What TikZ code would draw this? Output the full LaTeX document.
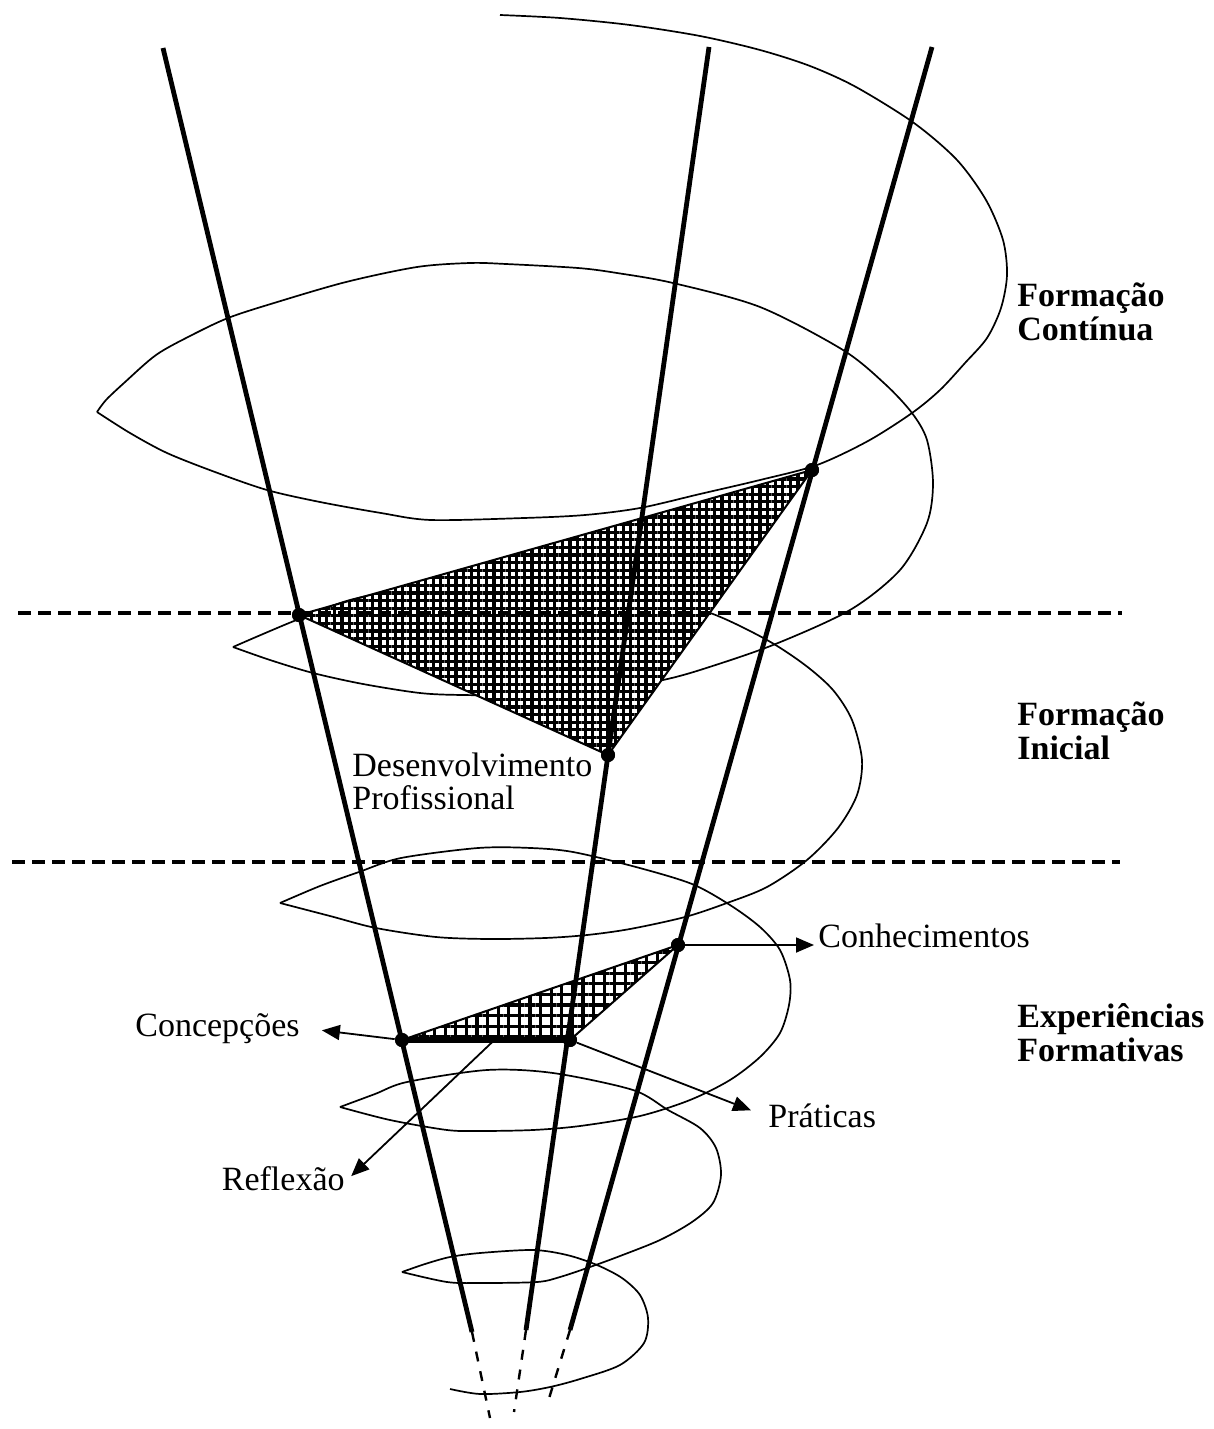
\documentclass[tikz,border=0pt]{standalone}
\usepackage{fontspec}
\setmainfont{Liberation Serif}
\usepackage{tikz}
\usetikzlibrary{arrows.meta,calc,patterns.meta}
\definecolor{dInk}{RGB}{0,0,0}
\tikzset{
  cone/.style={draw=dInk, line width=2.4pt},
  conedash/.style={draw=dInk, line width=1.2pt, dash pattern=on 5pt off 5pt},
  spir/.style={draw=dInk, line width=0.85pt},
  level/.style={draw=dInk, line width=2.2pt, dash pattern=on 6.5pt off 3.5pt},
  tri/.style={draw=dInk, line width=1pt, fill=white,
              postaction={pattern={Hatch[angle=0,distance=#1,line width=1.55pt]}}},
  base/.style={draw=dInk, line width=2.6pt},
  dot/.style={circle, fill=dInk, inner sep=0pt, minimum size=7pt},
  arr/.style={-{Triangle[length=9pt,width=7.5pt]}, draw=dInk, line width=0.9pt},
  lbl/.style={font=\fontsize{17}{16.5}\selectfont, inner sep=2pt, align=left},
  tag/.style={lbl, font=\fontsize{17}{17}\selectfont\bfseries},
}

\begin{document}
\begin{tikzpicture}[x=0.5pt,y=-0.5pt]
  \useasboundingbox (0,0) rectangle (1214,1429);
  \draw[spir] plot[smooth] coordinates {(500,15) (560,18) (630,25) (700,36) (760,50) (810,66) (856,87) (914,123) (957,160) (986,200) (1003,240) (1007,275) (1001,308) (987,338) (965,363) (940,390) (912,413) (868,441) (817,465) (760,480) (700,494) (640,508) (585,515) (524,518) (431,520) (381,513) (320,502) (267,490) (215,472) (167,453) (130,433) (97,412)};
  \draw[spir] plot[smooth] coordinates {(97,412) (106,400) (124,383) (156,355) (190,336) (228,318) (274,303) (346,282) (417,267) (470,263) (506,264) (578,268) (617,273) (673,283) (760,307) (843,350) (885,384) (912,413) (927,440) (933,483) (927,523) (900,570) (850,610) (773,645) (700,670) (663,680) (622,687) (540,695) (463,695) (420,693) (363,684) (313,673) (270,660) (233,647)};
  \draw[spir] plot[smooth] coordinates {(233,647) (263,634) (299,619) (350,600) (420,586) (500,579) (580,583) (650,596) (713,614) (767,640) (805,665) (833,690) (852,720) (862,760) (857,795) (838,828) (807,860) (767,887) (727,903) (685,917) (630,929) (587,935) (545,938) (490,939) (436,937) (376,928) (330,916) (280,903)};
  \draw[spir] plot[smooth] coordinates {(280,903) (320,886) (359,872) (401,858) (478,848) (531,848) (573,852) (636,867) (692,884) (730,905) (760,927) (780,950) (790,980) (789,1005) (780,1033) (760,1057) (730,1080) (690,1100) (640,1116) (580,1126) (533,1130) (480,1131) (447,1130) (390,1120) (340,1107)};
  \draw[spir] plot[smooth] coordinates {(340,1107) (375,1094) (407,1082) (487,1070) (553,1073) (633,1090) (668,1110) (700,1128) (716,1148) (721,1175) (713,1203) (692,1222) (660,1240) (620,1256) (590,1267) (560,1277) (537,1282) (480,1283) (447,1282) (402,1272)};
  \draw[spir] plot[smooth] coordinates {(402,1272) (425,1264) (450,1257) (480,1253) (533,1250) (567,1255) (597,1265) (622,1278) (640,1295) (648,1318) (644,1343) (620,1365) (580,1379) (550,1387) (520,1392) (480,1394) (450,1389)};
  \node[dot] (d1) at (299,615) {};
  \node[dot] (d2) at (812,470) {};
  \node[dot] (d3) at (608,755) {};
  \node[dot] (d4) at (402,1040) {};
  \node[dot] (d5) at (570,1040) {};
  \node[dot] (d6) at (678,945) {};
  \draw[tri=3.8pt] (d1.center) -- (d2.center) -- (d3.center) -- cycle;
  \draw[tri=5.3pt] (d4.center) -- (d6.center) -- (d5.center) -- cycle;
  \draw[base] (d4.center) -- (d5.center);
  \draw[level] (18,613) -- (1122,613);
  \draw[level] (12,862) -- (1120,862);
  \coordinate (a0) at (163,48);
  \coordinate (a1) at (472,1332);
  \coordinate (a2) at (490,1418);
  \coordinate (b0) at (709,47);
  \coordinate (b1) at (526,1330);
  \coordinate (b2) at (514,1412);
  \coordinate (c0) at (932,47);
  \coordinate (c1) at (570,1330);
  \coordinate (c2) at (547,1405);
  \draw[cone] (a0) -- (a1);
  \draw[cone] (b0) -- (b1);
  \draw[cone] (c0) -- (c1);
  \draw[conedash] (a1) -- (a2);
  \draw[conedash] (b1) -- (b2);
  \draw[conedash] (c1) -- (c2);
  \foreach \d in {d1,d2,d3,d4,d5,d6} \fill[dInk] (\d) circle (3.5pt);
  \node[tag, anchor=west] (fc) at (1013,312) {Formação\\Contínua};
  \node[tag, anchor=west] (fi) at (1013,731) {Formação\\Inicial};
  \node[tag, anchor=west] (ef) at (1013,1033) {Experiências\\Formativas};
  \node[lbl, anchor=west] (dp) at (348,781) {Desenvolvimento\\Profissional};
  \node[lbl, anchor=base west] (conh) at (814,947) {Conhecimentos};
  \node[lbl, anchor=base east] (conc) at (304,1036) {Concepções};
  \node[lbl, anchor=base west] (prat) at (764,1127) {Práticas};
  \node[lbl, anchor=base east] (refl) at (349,1190) {Reflexão};
  \draw[arr] (d6) -- (d6 -| conh.west);
  \draw[arr, shorten >=9pt] (d4) -- (conc.east);
  \draw[arr, shorten >=7pt] (d5) -- (prat.west);
  \draw[arr, shorten >=1.5pt] ($(d4)!0.55!(d5)$) -- (refl.east);
\end{tikzpicture}
\end{document}
